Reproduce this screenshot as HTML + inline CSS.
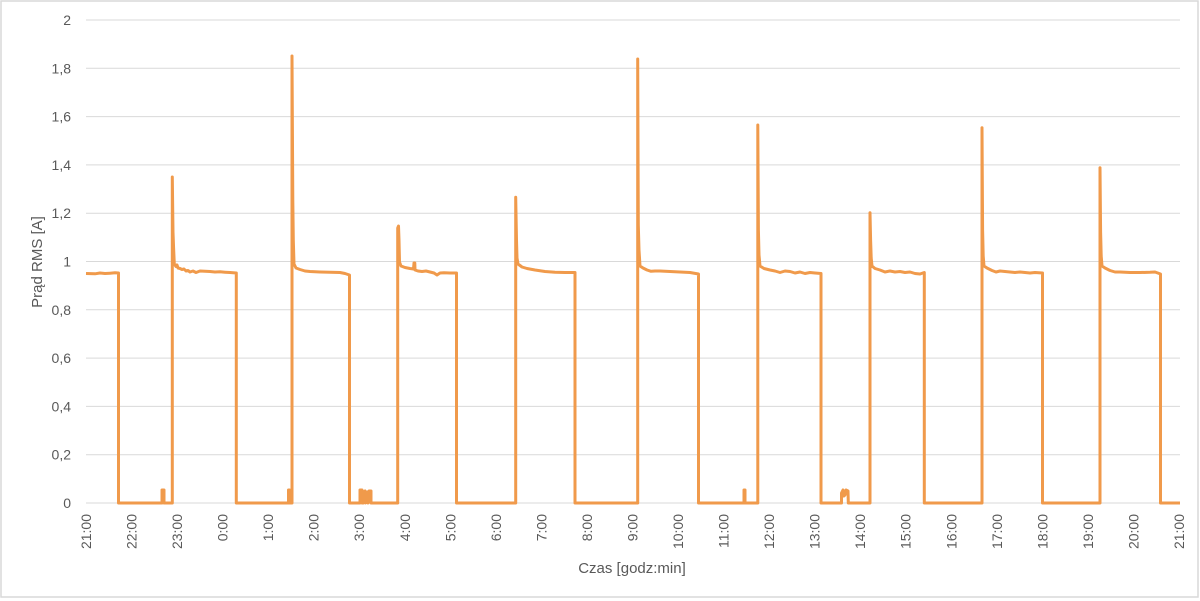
<!DOCTYPE html>
<html><head><meta charset="utf-8"><style>
html,body{margin:0;padding:0;background:#fff;}
svg{display:block;}
text{font-family:"Liberation Sans",sans-serif;fill:#595959;}
</style></head><body>
<svg width="1200" height="601" viewBox="0 0 1200 601" xmlns="http://www.w3.org/2000/svg">
<rect x="0" y="0" width="1200" height="601" fill="#fff"/>
<rect x="1" y="1" width="1197" height="596" fill="none" stroke="#d9d9d9" stroke-width="1.5"/>
<g stroke="#d9d9d9" stroke-width="1">
<line x1="86" x2="1180" y1="20" y2="20"/>
<line x1="86" x2="1180" y1="68.3" y2="68.3"/>
<line x1="86" x2="1180" y1="116.6" y2="116.6"/>
<line x1="86" x2="1180" y1="164.9" y2="164.9"/>
<line x1="86" x2="1180" y1="213.2" y2="213.2"/>
<line x1="86" x2="1180" y1="261.5" y2="261.5"/>
<line x1="86" x2="1180" y1="309.8" y2="309.8"/>
<line x1="86" x2="1180" y1="358.1" y2="358.1"/>
<line x1="86" x2="1180" y1="406.4" y2="406.4"/>
<line x1="86" x2="1180" y1="454.7" y2="454.7"/>
<line x1="86" x2="1180" y1="503" y2="503"/>
</g>
<g font-size="14" text-anchor="end">
<text x="71" y="25">2</text>
<text x="71" y="73.3">1,8</text>
<text x="71" y="121.6">1,6</text>
<text x="71" y="169.9">1,4</text>
<text x="71" y="218.2">1,2</text>
<text x="71" y="266.5">1</text>
<text x="71" y="314.8">0,8</text>
<text x="71" y="363.1">0,6</text>
<text x="71" y="411.4">0,4</text>
<text x="71" y="459.7">0,2</text>
<text x="71" y="508">0</text>
</g>
<g font-size="14" text-anchor="end">
<text transform="translate(91,514) rotate(-90)">21:00</text>
<text transform="translate(136.5,514) rotate(-90)">22:00</text>
<text transform="translate(182.1,514) rotate(-90)">23:00</text>
<text transform="translate(227.6,514) rotate(-90)">0:00</text>
<text transform="translate(273.2,514) rotate(-90)">1:00</text>
<text transform="translate(318.7,514) rotate(-90)">2:00</text>
<text transform="translate(364.2,514) rotate(-90)">3:00</text>
<text transform="translate(409.8,514) rotate(-90)">4:00</text>
<text transform="translate(455.3,514) rotate(-90)">5:00</text>
<text transform="translate(500.9,514) rotate(-90)">6:00</text>
<text transform="translate(546.4,514) rotate(-90)">7:00</text>
<text transform="translate(591.9,514) rotate(-90)">8:00</text>
<text transform="translate(637.5,514) rotate(-90)">9:00</text>
<text transform="translate(683,514) rotate(-90)">10:00</text>
<text transform="translate(728.6,514) rotate(-90)">11:00</text>
<text transform="translate(774.1,514) rotate(-90)">12:00</text>
<text transform="translate(819.6,514) rotate(-90)">13:00</text>
<text transform="translate(865.2,514) rotate(-90)">14:00</text>
<text transform="translate(910.7,514) rotate(-90)">15:00</text>
<text transform="translate(956.3,514) rotate(-90)">16:00</text>
<text transform="translate(1001.8,514) rotate(-90)">17:00</text>
<text transform="translate(1047.3,514) rotate(-90)">18:00</text>
<text transform="translate(1092.9,514) rotate(-90)">19:00</text>
<text transform="translate(1138.4,514) rotate(-90)">20:00</text>
<text transform="translate(1184,514) rotate(-90)">21:00</text>
</g>
<text x="632" y="573" font-size="15" text-anchor="middle">Czas [godz:min]</text>
<text transform="translate(42,262) rotate(-90)" font-size="15" text-anchor="middle">Prąd RMS [A]</text>
<path fill="none" stroke="#F09A4B" stroke-width="3" stroke-linejoin="round" d="
M86,273.5 L95,273.8 L100,273 L105,273.5 L110,273.2 L115,272.8 L118.5,273 L118.5,503
L162,503 L162,490 L164,490 L164,503 L172.3,503 L172.3,177 L173,232 L173.6,248 L174.3,264 L176,266.5 L177,265 L178,268 L180,268.5 L182,269.5 L184,269 L186,271 L188,270.5 L190,272 L193,271 L196,272.5 L200,271 L205,271.3 L210,271.5 L215,272 L220,271.8 L225,272.2 L230,272.5 L236.3,273 L236.3,503
L288.5,503 L288.5,490 L289.5,490 L289.5,503 L292,503 L292,56 L292.8,200 L293.3,240 L294,264 L296,268 L300,269.5 L305,271 L310,271.5 L320,272 L330,272.3 L340,272.5 L345,273.5 L349.5,275 L349.5,503
L360,503 L360,490 L362,490 L362,503 L363,503 L363.5,492 L365,491 L365.5,503 L366,497 L367,492 L368,503 L369,491 L371,491 L371,503
L397.7,503 L397.7,228 L398.5,226 L399,240 L399.5,262 L401,266 L405,267.5 L410,268.5 L413.5,269 L414,263 L414.8,263 L415,270 L418,271 L422,271.5 L426,271 L430,272 L434,273 L437,275 L440,273 L444,272.8 L450,273 L456.5,273 L456.5,503
L515.7,503 L515.7,197.3 L516.5,240 L517,258 L518,264 L522,267 L527,268.5 L535,270 L545,271.5 L555,272.3 L565,272.5 L575,272.5 L575,503
L637.7,503 L637.7,59 L638.3,225 L639,250 L640,266 L643,268 L647,270 L651,271.3 L655,271 L660,271 L670,271.5 L680,272 L690,272.5 L698.5,274 L698.5,503
L744,503 L744,490 L745,490 L745,503 L757.8,503 L757.8,125 L758.4,230 L759,255 L760,266 L764,268.5 L770,270 L775,271 L780,272.5 L785,271 L790,271.5 L795,273 L800,272 L805,273.5 L810,272.5 L815,273 L821,273.5 L821,503
L841.5,503 L841.5,493 L843,490 L844,496 L845,495 L846,490 L848,491 L848.3,503
L870,503 L870,212.7 L870.6,240 L871.2,258 L872,266 L875,268.5 L880,270 L885,272 L890,271 L895,272 L900,271.5 L905,272.5 L910,272 L915,273.5 L920,274 L924.3,272.5 L924.3,503
L982,503 L982,127.7 L982.6,230 L983.2,256 L984,266 L987,268 L992,270.5 L996,272 L1000,271 L1005,271.5 L1010,272 L1015,272.5 L1020,272 L1025,272.5 L1030,273 L1035,272.5 L1042.5,273 L1042.5,503
L1100,503 L1100,167.7 L1100.6,232 L1101.2,256 L1102,266 L1105,268 L1110,270.5 L1115,272 L1120,272 L1130,272.5 L1140,272.5 L1150,272.3 L1155,272 L1160.5,274 L1160.5,503 L1180,503"/>
</svg>
</body></html>
